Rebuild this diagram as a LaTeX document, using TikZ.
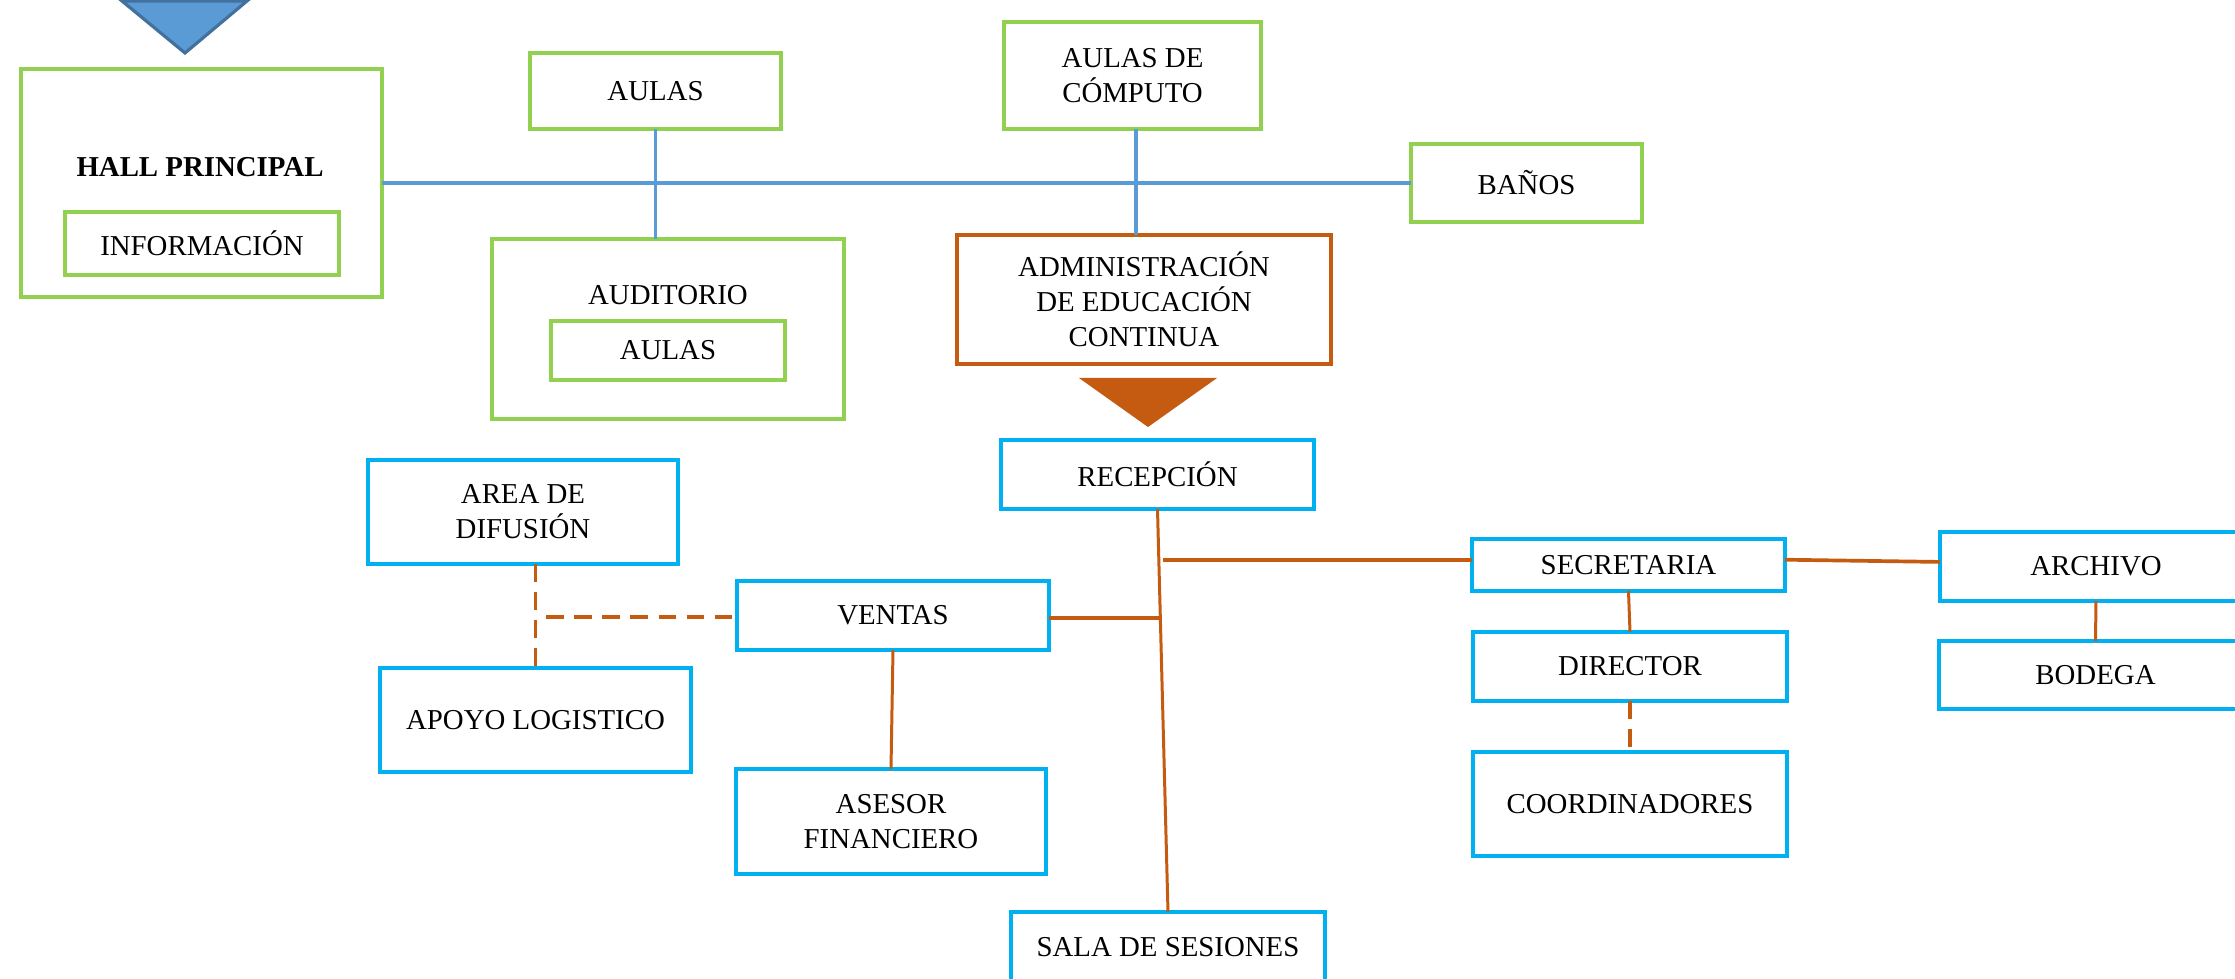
\documentclass[tikz,border=0pt]{standalone}
\usepackage{fontspec}
\setmainfont{Liberation Serif}
\definecolor{gr}{HTML}{92D050}
\definecolor{cy}{HTML}{00B0F0}
\definecolor{orn}{HTML}{C55A11}
\definecolor{lb}{HTML}{5B9BD5}
\definecolor{db}{HTML}{41719C}
\begin{document}
\begin{tikzpicture}[x=0.01cm,y=-0.01cm,
  every node/.style={inner sep=0pt,outer sep=0pt,font=\fontsize{8.2}{10}\selectfont,align=center},
  gbox/.style={draw=gr,line width=0.95pt,fill=white},
  cbox/.style={draw=cy,line width=1.05pt,fill=white},
  obox/.style={draw=orn,line width=1.3pt,fill=white},
  bline/.style={draw=lb,line width=0.95pt},
  oline/.style={draw=orn,line width=0.85pt},
  othick/.style={draw=orn,line width=1.05pt},
  odash/.style={draw=orn,line width=1.05pt,dash pattern=on 5pt off 3pt}]
\useasboundingbox (0,0) rectangle (2235,979);
% top-left triangle
\filldraw[fill=lb,draw=db,line width=0.9pt,line join=miter] (122,1) -- (247,1) -- (185,53) -- cycle;
% green boxes
\node[gbox,minimum width=3.61cm,minimum height=2.28cm] (hall) at (201.5,183) {};
\node[font=\fontsize{8.2}{10}\selectfont\bfseries] (hallt) at (200,167) {HALL PRINCIPAL};
\node[gbox,minimum width=2.74cm,minimum height=0.63cm] (info) at (202,243.5) {INFORMACIÓN};
\node[gbox,minimum width=2.51cm,minimum height=0.76cm] (aulas) at (655.5,91) {AULAS};
\node[gbox,minimum width=3.52cm,minimum height=1.80cm] (audit) at (668,329) {};
\node (auditt) at (668,295) {AUDITORIO};
\node[gbox,minimum width=2.34cm,minimum height=0.59cm] (aulas2) at (668,350.5) {AULAS};
\node[gbox,minimum width=2.57cm,minimum height=1.07cm] (comp) at (1132.5,75.5) {AULAS DE\\CÓMPUTO};
\node[gbox,minimum width=2.31cm,minimum height=0.78cm] (banos) at (1526.5,183) {BAÑOS};
% admin
\node[obox,minimum width=3.74cm,minimum height=1.29cm] (admin) at (1144,299.5) {ADMINISTRACIÓN\\DE EDUCACIÓN\\CONTINUA};
\fill[orn] (1079,378) -- (1217,378) -- (1148,427) -- cycle;
% blue connectors
\draw[bline] (hall.east) -- (banos.west);
\draw[bline] (aulas.south) -- (aulas.south |- audit.north);
\draw[bline] ([xshift=1pt]comp.south) -- ([xshift=1pt]comp.south |- admin.north);
% cyan boxes
\node[cbox,minimum width=3.13cm,minimum height=0.69cm] (recep) at (1157.5,474.5) {RECEPCIÓN};
\node[cbox,minimum width=3.10cm,minimum height=1.04cm] (area) at (523,512) {AREA DE\\DIFUSIÓN};
\node[cbox,minimum width=3.12cm,minimum height=0.69cm] (ventas) at (893,615.5) {VENTAS};
\node[cbox,minimum width=3.11cm,minimum height=1.04cm] (apoyo) at (535.5,720) {APOYO LOGISTICO};
\node[cbox,minimum width=3.10cm,minimum height=1.05cm] (asesor) at (891,821.5) {ASESOR\\FINANCIERO};
\node[cbox,minimum width=3.14cm,minimum height=0.70cm] (sala) at (1168,947) {SALA DE SESIONES};
\node[cbox,minimum width=3.13cm,minimum height=0.52cm] (secret) at (1628.5,565) {SECRETARIA};
\node[cbox,minimum width=3.12cm,minimum height=0.69cm] (archivo) at (2096,566.5) {ARCHIVO};
\node[cbox,minimum width=3.13cm,minimum height=0.68cm] (bodega) at (2095.5,675) {BODEGA};
\node[cbox,minimum width=3.14cm,minimum height=0.69cm] (director) at (1630,666.5) {DIRECTOR};
\node[cbox,minimum width=3.14cm,minimum height=1.04cm] (coord) at (1630,804) {COORDINADORES};
% orange connectors
\coordinate (j1) at (1163,560);
\coordinate (j2) at (1161,618);
\coordinate (j3) at (546,617);
\draw[oline] (recep.south) -- (sala.north);
\draw[othick] (j1) -- (j1 -| secret.west);
\draw[othick] (ventas.east |- j2) -- (j2);
\draw[oline] (ventas.south) -- (asesor.north);
\draw[odash] (apoyo.north |- area.south) -- (apoyo.north);
\draw[odash] (j3) -- (j3 -| ventas.west);
\draw[othick] ([yshift=1.5pt]secret.east) -- ([yshift=1.3pt]archivo.west);
\draw[oline] (secret.south) -- (director.north);
\draw[odash] (director.south) -- (coord.north);
\draw[oline] (archivo.south) -- (bodega.north);
\end{tikzpicture}
\end{document}
